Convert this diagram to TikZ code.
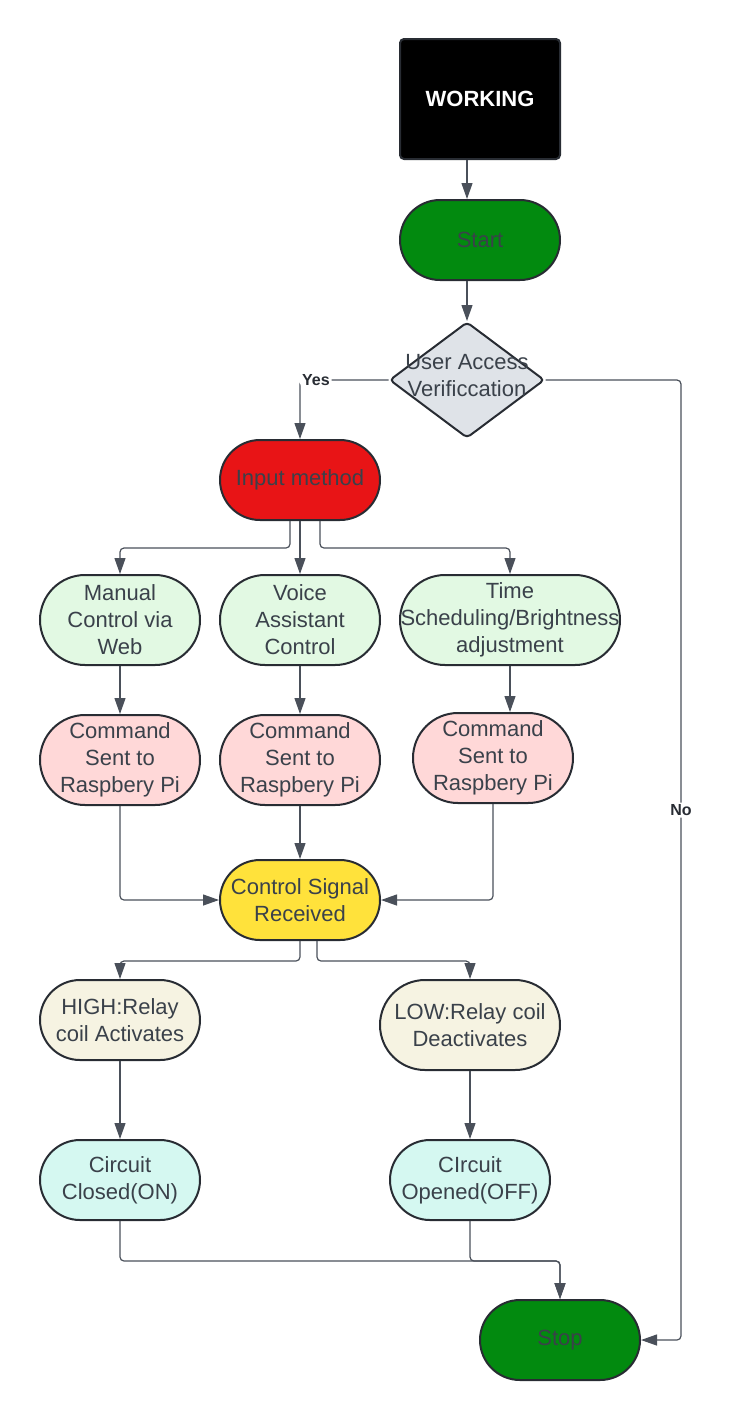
\documentclass[tikz,border=0pt]{standalone}
\usepackage{fontspec}
\setmainfont{Liberation Sans}
\usepackage{tikz}
\usetikzlibrary{shapes,arrows.meta}

\definecolor{txtgray}{HTML}{3A414A}
\definecolor{edgegray}{HTML}{282C33}
\definecolor{wiregray}{HTML}{4A505A}
\definecolor{startgreen}{HTML}{028A0F}
\definecolor{inred}{HTML}{E81416}
\definecolor{checkgray}{HTML}{DFE3E8}
\definecolor{modegreen}{HTML}{E2F9E3}
\definecolor{cmdpink}{HTML}{FFD8D8}
\definecolor{sigyellow}{HTML}{FFE23B}
\definecolor{relaycream}{HTML}{F6F3E2}
\definecolor{circaqua}{HTML}{D5F8F1}

\tikzset{
  pill/.style={rectangle, draw=edgegray, line width=1pt, rounded corners=20pt,
    minimum width=80pt, minimum height=40pt, inner sep=0pt, align=center,
    text=txtgray, font=\fontsize{11}{13.5}\selectfont},
  tallpill/.style={pill, rounded corners=22.5pt, minimum height=45pt},
  wire/.style={draw=wiregray, line width=0.6pt, rounded corners=2pt,
    -{Triangle[length=8pt,width=5.5pt]}},
  tag/.style={fill=white, inner sep=1pt, text=edgegray,
    font=\fontsize{8}{9}\selectfont\bfseries}
}

\begin{document}
\begin{tikzpicture}[x=0.5pt,y=-0.5pt]
  \useasboundingbox (0,0) rectangle (733,1420);
  %\draw[step=100,gray,very thin] (0,0) grid (733,1420);

  \node[draw=edgegray, fill=black, line width=1pt, rounded corners=2pt,
    minimum width=80pt, minimum height=60pt, text=white,
    font=\fontsize{11}{13}\selectfont\bfseries] (work) at (480,99) {WORKING};
  \node[pill, fill=startgreen] (start) at (480,240) {Start};
  \node[diamond, draw=edgegray, fill=checkgray, line width=1pt, rounded corners=2pt,
    minimum width=77.5pt, minimum height=58pt, inner sep=0pt,
    label={[align=center, text=txtgray, font=\fontsize{11}{13.5}\selectfont, yshift=2pt]center:User Access\\Verificcation}]
    (verify) at (467,380) {};
  \node[pill, fill=inred] (input) at (300,480) {Input method};

  \node[tallpill, fill=modegreen] (manual) at (120,620) {Manual\\Control via\\Web};
  \node[tallpill, fill=modegreen] (voice) at (300,620) {Voice\\Assistant\\Control};
  \node[tallpill, fill=modegreen, minimum width=110pt] (time) at (510,620) {Time\\Scheduling/Brightness\\adjustment};

  \node[tallpill, fill=cmdpink] (cmda) at (120,760) {Command\\Sent to\\Raspbery Pi};
  \node[tallpill, fill=cmdpink] (cmdb) at (300,760) {Command\\Sent to\\Raspbery Pi};
  \node[tallpill, fill=cmdpink] (cmdc) at (493,758) {Command\\Sent to\\Raspbery Pi};

  \node[pill, fill=sigyellow] (ctrl) at (300,900) {Control Signal\\Received};

  \node[pill, fill=relaycream] (high) at (120,1020) {HIGH:Relay\\coil Activates};
  \node[tallpill, fill=relaycream, minimum width=90pt] (low) at (470,1025) {LOW:Relay coil\\Deactivates};

  \node[pill, fill=circaqua] (closed) at (120,1180) {Circuit\\Closed(ON)};
  \node[pill, fill=circaqua] (opened) at (470,1180) {CIrcuit\\Opened(OFF)};

  \node[pill, fill=startgreen] (stop) at (560,1340) {Stop};

  \coordinate (norail) at (681,380);

  \draw[wire] (verify.north |- work.south) -- (verify.north |- start.north);
  \draw[wire] (verify.north |- start.south) -- (verify.north);
  \draw[wire] (verify.west) -| node[tag, pos=0.41]{Yes} (input.north);
  \draw[wire] (verify.east) -- (norail) |- node[tag, pos=0.224]{No} (stop.east);

  \draw[wire] ([xshift=-5pt]input.south) -- ++(0,27) -| (manual.north);
  \draw[wire] (input.south) -- (voice.north);
  \draw[wire] ([xshift=10pt]input.south) -- ++(0,27) -| (time.north);

  \draw[wire] (manual) -- (cmda);
  \draw[wire] (voice) -- (cmdb);
  \draw[wire] (time.south) -- (time.south |- cmdc.north);

  \draw[wire] (cmda.south) |- (ctrl.west);
  \draw[wire] (cmdb) -- (ctrl);
  \draw[wire] (cmdc.south) |- (ctrl.east);

  \draw[wire] (ctrl.south) -- ++(0,20) -| (high.north);
  \draw[wire] ([xshift=8.5pt]ctrl.south) -- ++(0,20) -| (low.north);

  \draw[wire] (high) -- (closed);
  \draw[wire] (low) -- (opened);

  \draw[wire] (closed.south) -- ++(0,40) -| (stop.north);
  \draw[wire] (opened.south) -- ++(0,40) -| (stop.north);

\end{tikzpicture}
\end{document}
